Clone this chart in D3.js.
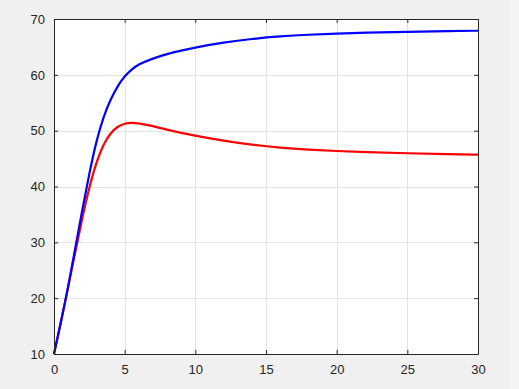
<!doctype html>
<html>
  <head>
    <meta charset="utf-8">
    <title>Two responses</title>
    <script src="https://cdnjs.cloudflare.com/ajax/libs/d3/7.8.5/d3.min.js"></script>
    <style>
      html, body { margin: 0; padding: 0; background: #f0f0f0; }
      svg { display: block; }
      .tick text { font-family: "Liberation Sans", Arial, sans-serif; font-size: 13px; fill: #262626; }
    </style>
  </head>
  <body>
    <div id="chart"></div>
    <script>
      // time points and the two series
      const time = [0, 0.5, 1, 1.5, 2, 2.5, 3, 3.5, 4, 4.5, 5, 5.5, 6, 7, 8, 9, 10, 12, 14, 16, 18, 20, 22, 25, 28, 30];
      const blueVals = [10, 15.8, 22, 28.9, 35.8, 42.4, 48.2, 52.5, 55.6, 58.0, 59.8, 61.0, 61.9, 62.95, 63.75, 64.35, 64.9, 65.8, 66.45, 66.9, 67.2, 67.4, 67.55, 67.7, 67.85, 67.9];
      const redVals = [10, 15.8, 21.9, 28.2, 34.4, 39.9, 44.4, 47.6, 49.6, 50.75, 51.3, 51.45, 51.3, 50.85, 50.15, 49.6, 49.1, 48.2, 47.45, 46.95, 46.6, 46.35, 46.15, 45.95, 45.8, 45.7];
      const xTicks = [0, 5, 10, 15, 20, 25, 30];
      const yTicks = [10, 20, 30, 40, 50, 60, 70];

      const width = 519, height = 389;
      const mLeft = 54, mRight = 478, mTop = 19, mBottom = 354;

      const svg = d3.select('#chart').append('svg')
        .attr('width', width)
        .attr('height', height);

      svg.append('rect')
        .attr('width', width).attr('height', height)
        .attr('fill', '#f0f0f0');
      // slightly lighter strip at the right edge
      svg.append('rect')
        .attr('x', 510).attr('width', 9).attr('height', height)
        .attr('fill', '#f4f4f4');

      const x = d3.scaleLinear().domain([0, 30]).range([mLeft, mRight]);
      const y = d3.scaleLinear().domain([10, 70]).range([mBottom, mTop]);

      svg.append('rect')
        .attr('x', mLeft).attr('y', mTop)
        .attr('width', mRight - mLeft).attr('height', mBottom - mTop)
        .attr('fill', '#fff');

      // grid
      const grid = svg.append('g').attr('stroke', '#e3e3e3').attr('stroke-width', 1);
      grid.selectAll('line.gx').data(xTicks.slice(1, -1)).join('line')
        .attr('x1', d => Math.round(x(d)) + 0.5).attr('x2', d => Math.round(x(d)) + 0.5)
        .attr('y1', mTop).attr('y2', mBottom);
      grid.selectAll('line.gy').data(yTicks.slice(1, -1)).join('line')
        .attr('y1', d => Math.round(y(d)) + 0.5).attr('y2', d => Math.round(y(d)) + 0.5)
        .attr('x1', mLeft).attr('x2', mRight);

      // lines (b-spline to keep the knee smooth)
      const line = d3.line().curve(d3.curveBasis);
      const plot = svg.append('g');
      plot.append('path')
        .attr('d', line(time.map((t, i) => [x(t), y(redVals[i])])))
        .attr('fill', 'none').attr('stroke', '#ff0000').attr('stroke-width', 2.2);
      plot.append('path')
        .attr('d', line(time.map((t, i) => [x(t), y(blueVals[i])])))
        .attr('fill', 'none').attr('stroke', '#0000ff').attr('stroke-width', 2.2);

      // axes, ticks pointing inward, box on
      const axisColor = '#262626';
      svg.append('g')
        .attr('transform', `translate(0,${mBottom})`)
        .call(d3.axisBottom(x).tickValues(xTicks).tickSizeInner(-4).tickSizeOuter(0).tickPadding(11));
      svg.append('g')
        .attr('transform', `translate(${mLeft},0)`)
        .call(d3.axisLeft(y).tickValues(yTicks).tickSizeInner(-4).tickSizeOuter(0).tickPadding(9));
      svg.append('g')
        .attr('transform', `translate(0,${mTop})`)
        .call(d3.axisTop(x).tickValues(xTicks).tickSizeInner(-4).tickSizeOuter(0).tickFormat(''));
      svg.append('g')
        .attr('transform', `translate(${mRight},0)`)
        .call(d3.axisRight(y).tickValues(yTicks).tickSizeInner(-4).tickSizeOuter(0).tickFormat(''));

      svg.selectAll('.domain').attr('stroke', axisColor);
      svg.selectAll('.tick line').attr('stroke', axisColor);
    </script>
  </body>
</html>
